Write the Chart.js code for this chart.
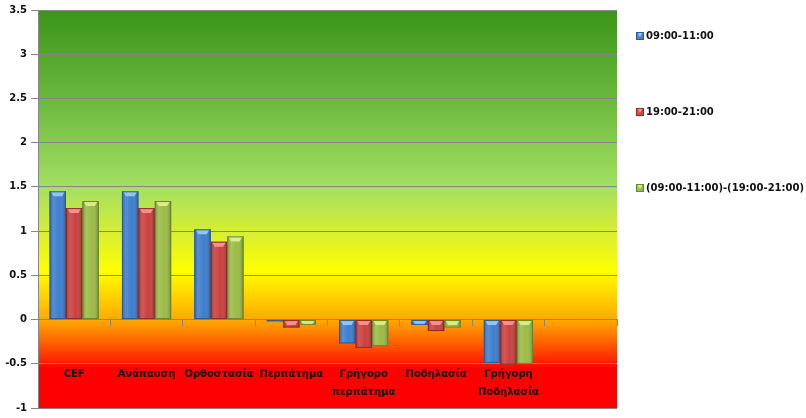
<!DOCTYPE html>
<html>
<head>
<meta charset="utf-8">
<script src="https://cdn.jsdelivr.net/npm/chart.js@4"></script>
<style>
  html, body { margin: 0; padding: 0; background: #fff; }
  #wrap { width: 806px; height: 418px; position: relative; }
</style>
</head>
<body>
<div id="wrap"><canvas id="chart"></canvas></div>
<script>
const categories = ['CEF', 'Ανάπαυση', 'Ορθοστασία', 'Περπάτημα', ['Γρήγορο', 'περπάτημα'], 'Ποδηλασία', ['Γρήγορη', 'Ποδηλασία'], ''];
const seriesNames = ['09:00-11:00', '19:00-21:00', '(09:00-11:00)-(19:00-21:00)'];
const morning = [1.45, 1.45, 1.02, -0.02, -0.27, -0.06, -0.49, null];
const evening = [1.26, 1.26, 0.88, -0.09, -0.32, -0.13, -0.51, null];
const difference = [1.34, 1.34, 0.94, -0.06, -0.30, -0.09, -0.50, null];
const yRange = [-1, 3.5];
const yStep = 0.5;

// base / dark edge / light bevel for each series
const shades = [
    { base: '#3d7ecd', dark: '#2a5b98', light: '#92c4f6' },
    { base: '#c9413f', dark: '#8f2b2a', light: '#f39090' },
    { base: '#9bbb46', dark: '#6c862c', light: '#d9ef86' }
];

const font = { family: '"DejaVu Sans", Verdana, sans-serif', size: 10, weight: 'bold' };

function shadeBar(ctx, left, top, w, h, s) {
    ctx.save();
    const g = ctx.createLinearGradient(left, 0, left + w, 0);
    g.addColorStop(0, 'rgba(0,0,0,0.22)');
    g.addColorStop(0.25, 'rgba(255,255,255,0.12)');
    g.addColorStop(0.6, 'rgba(255,255,255,0)');
    g.addColorStop(1, 'rgba(0,0,0,0.28)');
    ctx.fillStyle = g;
    ctx.fillRect(left, top, w, h);
    // bevel on the top edge
    const bh = Math.min(5, h);
    ctx.beginPath();
    ctx.moveTo(left + 1, top);
    ctx.lineTo(left + w - 1, top);
    ctx.lineTo(left + w - 4, top + bh);
    ctx.lineTo(left + 4, top + bh);
    ctx.closePath();
    ctx.fillStyle = s.light;
    ctx.fill();
    ctx.strokeStyle = s.dark;
    ctx.lineWidth = 1;
    ctx.strokeRect(left + 0.5, top + 0.5, w - 1, Math.max(h - 1, 0));
    ctx.restore();
}

const backgroundPlugin = {
    id: 'zones',
    beforeDraw(chart) {
        const { ctx, chartArea: a, scales: { y } } = chart;
        const g = ctx.createLinearGradient(0, a.top, 0, a.bottom);
        const stop = (v, c) => g.addColorStop((y.getPixelForValue(v) - a.top) / (a.bottom - a.top), c);
        stop(3.5, '#3a9518');
        stop(2.5, '#6ab83e');
        stop(1.5, '#a2df62');
        stop(1.0, '#d6ee34');
        stop(0.55, '#ffff00');
        stop(0.0, '#ffaa00');
        stop(-0.45, '#ff2a00');
        stop(-0.55, '#ff0000');
        stop(-1, '#ff0000');
        ctx.save();
        ctx.fillStyle = g;
        ctx.fillRect(a.left, a.top, a.right - a.left, a.bottom - a.top);
        ctx.restore();
    }
};

const bevelPlugin = {
    id: 'bevel',
    afterDatasetsDraw(chart) {
        const ctx = chart.ctx;
        chart.data.datasets.forEach((ds, i) => {
            chart.getDatasetMeta(i).data.forEach((bar, j) => {
                if (ds.data[j] == null) return;
                const { x, y, base, width } = bar.getProps(['x', 'y', 'base', 'width'], true);
                const top = Math.min(y, base), bottom = Math.max(y, base);
                shadeBar(ctx, x - width / 2, top, width, bottom - top, shades[i]);
            });
        });
    }
};

const legendPlugin = {
    id: 'sideLegend',
    afterDraw(chart) {
        const { ctx, chartArea: a } = chart;
        ctx.save();
        ctx.font = `${font.weight} ${font.size}px ${font.family}`;
        ctx.textBaseline = 'middle';
        ctx.textAlign = 'left';
        chart.data.datasets.forEach((ds, i) => {
            const bx = a.right + 19;
            const cy = a.top + 26 + i * 76;
            ctx.fillStyle = shades[i].base;
            ctx.fillRect(bx, cy - 4, 8, 8);
            shadeBar(ctx, bx, cy - 4, 8, 8, shades[i]);
            ctx.fillStyle = '#111';
            ctx.fillText(ds.label, bx + 10, cy);
        });
        ctx.restore();
    }
};

const ctx = document.getElementById('chart').getContext('2d');
new Chart(ctx, {
    type: 'bar',
    data: {
        labels: categories,
        datasets: [morning, evening, difference].map((d, i) => ({
            label: seriesNames[i],
            data: d,
            backgroundColor: shades[i].base,
            borderWidth: 0,
            categoryPercentage: 0.68,
            barPercentage: 1.0
        }))
    },
    options: {
        responsive: true,
        maintainAspectRatio: false,
        animation: false,
        layout: { padding: { top: 6, right: 189, bottom: 10, left: 0 } },
        plugins: {
            legend: { display: false },
            tooltip: { enabled: false }
        },
        scales: {
            x: {
                position: { y: 0 },
                grid: { drawOnChartArea: false, offset: true, tickLength: 6, color: '#868686' },
                border: { color: '#868686' },
                ticks: { padding: 40, color: '#111', font: { ...font, lineHeight: 1.8 }, maxRotation: 0, autoSkip: false }
            },
            y: {
                min: yRange[0],
                max: yRange[1],
                ticks: { stepSize: yStep, color: '#111', font: font, padding: 4, callback: v => String(v) },
                grid: { color: '#868686', tickLength: 7 },
                border: { color: '#868686' },
                afterFit: s => { s.width = 38; }
            }
        }
    },
    plugins: [backgroundPlugin, bevelPlugin, legendPlugin]
});
</script>
</body>
</html>
